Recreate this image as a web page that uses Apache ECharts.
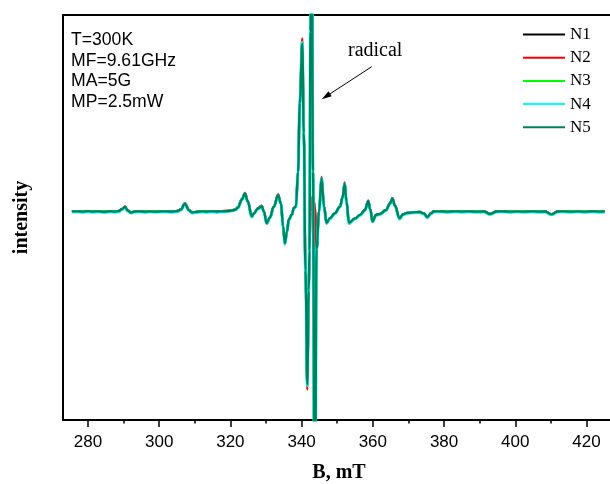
<!DOCTYPE html>
<html>
<head>
<meta charset="utf-8">
<script src="https://cdn.jsdelivr.net/npm/echarts@6/dist/echarts.min.js"></script>
<style>
html,body{margin:0;padding:0;background:#fff;}
#chart{width:610px;height:484px;}
</style>
</head>
<body>
<div id="chart"></div>
<script>
// Magnetic field (mT)
const fieldB = [
  275.5, 277.0, 278.5, 280.0, 281.5, 283.0, 284.5, 286.0, 287.5, 288.6,
  289.6, 290.4, 291.2, 292.1, 293.2, 294.5, 296.0, 297.5, 299.0, 300.5,
  302.0, 303.5, 305.0, 306.1, 307.2, 308.4, 309.2, 310.3, 311.8, 313.3,
  314.8, 316.2, 317.6, 319.0, 320.4, 321.4, 322.1, 323.2, 324.1, 324.9,
  326.0, 326.6, 327.7, 328.8, 329.4, 330.2, 331.1, 332.2, 333.4, 334.2,
  334.8, 335.3, 335.9, 336.4, 337.3, 337.8, 338.4, 339.0, 339.5, 340.2,
  340.6, 341.1, 341.6, 342.0, 342.2, 342.5, 342.8, 343.2, 343.7, 344.2,
  344.9, 345.6, 346.3, 347.0, 347.9, 349.3, 350.8, 351.5, 352.1, 352.6,
  353.3, 355.0, 356.4, 357.8, 358.7, 359.3, 359.9, 360.9, 362.0, 363.7,
  364.8, 365.5, 366.2, 367.5, 368.4, 369.6, 371.5, 373.2, 374.3, 375.3,
  376.3, 377.1, 379.0, 381.0, 383.0, 385.0, 387.0, 389.0, 391.2, 392.9,
  394.8, 396.5, 398.5, 400.5, 402.5, 404.5, 406.5, 408.3, 410.2, 411.9,
  413.5, 415.5, 417.5, 419.5, 421.5, 423.5, 425.1
];
const intN1 = [
  0, 0.4, -0.3, 0.3, -0.4, 0.3, -0.2, 0.4, -0.3, 0.5,
  2.5, 4.8, 1.0, -1.0, 0, 0.4, -0.3, 0.3, -0.4, 0.2,
  0.3, -0.2, 0.5, 2.0, 8.0, 1.5, -1.0, -0.5, 0.3, -0.3,
  0.4, -0.2, 0.3, 0.5, 1.0, 2.0, 4.0, 12.0, 18.0, 10.0,
  -5.0, -2.0, 3.0, 5.5, 0, -11.8, -6.0, 5.0, 16.5, 8.0,
  -15, -32, -20, -8, -3, 3.5, 5, 40, 110, 170,
  80, -60, -175, -80, -40, 0, 10, 15, 5, -38,
  0, 33.5, 5, -11.5, -7, -2, 5, 14, 28, 10,
  -11.5, -7, -3.5, 1.5, 10.5, 2, -10, -3.5, -2.5, 1.5,
  8, 13, 6, -7, -3, -1.5, -0.8, -0.5, -2, -5.8,
  -2, 0, 0.4, -0.3, 0.3, -0.4, 0.3, -0.2, 0, -2.5,
  0, 0.4, -0.3, 0.3, -0.4, 0.3, -0.2, 0, -2.8, 0,
  0.4, -0.3, 0.3, -0.4, 0.3, -0.2, 0.2
];
const intN2 = [
  0.2, 0.3, -0.4, 0.2, -0.3, 0.4, -0.3, 0.3, -0.2, 0.4,
  2.6, 5.0, 1.2, -1.1, 0.1, 0.3, -0.4, 0.4, -0.3, 0.3,
  0.2, -0.3, 0.4, 2.2, 8.3, 1.6, -1.1, -0.4, 0.2, -0.2,
  0.3, -0.3, 0.4, 0.6, 1.1, 2.1, 4.2, 12.4, 18.6, 10.3,
  -5.3, -2.1, 3.1, 5.8, 0.2, -12.3, -6.2, 5.2, 17.0, 8.2,
  -15.5, -33, -20.5, -8.2, -3.1, 3.6, 5.2, 41, 112, 173,
  82, -62, -178, -82, -41, 0, 10, 15, 5, -39,
  0, 34.5, 5.2, -12, -7.2, -2.1, 5.2, 14.5, 29, 10.3,
  -12, -7.2, -3.6, 1.6, 10.8, 2.1, -10.4, -3.6, -2.6, 1.6,
  8.3, 13.4, 6.2, -7.2, -3.1, -1.6, -0.7, -0.6, -2.1, -6.0,
  -2.1, 0.1, 0.3, -0.4, 0.2, -0.3, 0.4, -0.3, 0.1, -2.6,
  0.1, 0.3, -0.4, 0.2, -0.3, 0.4, -0.3, 0.1, -2.9, 0.1,
  0.3, -0.4, 0.2, -0.3, 0.4, -0.3, 0.1
];
const intN3 = [
  0.3, -0.3, 0.4, -0.2, 0.3, -0.4, 0.3, -0.2, 0.4, 0.1,
  2.4, 4.7, 0.9, -0.9, 0.1, -0.3, 0.4, -0.2, 0.3, -0.3,
  0.4, -0.4, 0.3, 1.9, 7.8, 1.4, -0.9, -0.6, 0.4, -0.2,
  0.2, -0.4, 0.4, 0.3, 0.9, 1.9, 3.9, 11.8, 17.7, 9.8,
  -4.9, -1.9, 2.9, 5.4, -0.1, -11.6, -5.9, 4.9, 16.2, 7.8,
  -14.8, -31.5, -19.7, -7.9, -2.9, 3.4, 4.9, 39, 108, 167,
  78, -59, -171, -78, -39, 180, 400, 40, -400, -37,
  0.2, 33, 4.9, -11.3, -6.9, -2.0, 4.9, 13.8, 27.6, 9.8,
  -11.3, -6.9, -3.4, 1.4, 10.3, 1.9, -9.8, -3.4, -2.4, 1.4,
  7.9, 12.8, 5.9, -6.9, -2.9, -1.4, -0.9, -0.4, -1.9, -5.7,
  -1.9, -0.1, -0.3, 0.4, -0.2, 0.3, -0.4, 0.3, -0.1, -2.4,
  -0.1, -0.3, 0.4, -0.2, 0.3, -0.4, 0.3, -0.1, -2.7, -0.1,
  -0.3, 0.4, -0.2, 0.3, -0.4, 0.3, -0.1
];
const intN4 = [
  -0.6, -0.2, -0.9, -0.3, -0.8, -0.2, -0.9, -0.4, -0.7, -0.3,
  1.9, 4.3, 0.5, -1.5, -0.6, -0.2, -0.9, -0.3, -0.8, -0.4,
  -0.3, -0.8, -0.2, 1.4, 7.4, 1.0, -1.5, -1.0, -0.4, -0.8,
  -0.3, -0.9, -0.3, -0.1, 0.5, 1.5, 3.5, 11.5, 17.5, 9.5,
  -5.4, -2.4, 2.5, 5.0, -0.5, -12.0, -6.4, 4.5, 16.0, 7.5,
  -15.3, -32.2, -20.3, -8.4, -3.4, 3.0, 4.5, 39.5, 109, 169,
  79, -60, -174, -80, -40, 180, 400, 40, -400, -38,
  -0.3, 33, 4.5, -11.8, -7.4, -2.5, 4.5, 13.5, 27.5, 9.5,
  -11.8, -7.4, -3.9, 1.0, 10, 1.5, -10.3, -3.9, -2.9, 1.0,
  7.5, 12.5, 5.5, -7.4, -3.4, -1.9, -1.3, -0.9, -2.4, -6.2,
  -2.4, -0.5, -0.2, -0.9, -0.3, -0.8, -0.3, -0.8, -0.5, -3.0,
  -0.5, -0.2, -0.9, -0.3, -0.8, -0.2, -0.8, -0.5, -3.3, -0.5,
  -0.2, -0.8, -0.3, -0.9, -0.2, -0.8, -0.4
];
const intN5 = [
  0.1, 0.2, -0.2, 0.3, -0.1, 0.2, -0.3, 0.2, -0.1, 0.3,
  2.3, 4.6, 0.8, -1.0, 0.0, 0.2, -0.2, 0.1, -0.2, 0.2,
  0.1, -0.1, 0.3, 1.8, 7.7, 1.3, -1.0, -0.5, 0.2, -0.1,
  0.2, -0.1, 0.2, 0.3, 0.9, 1.8, 3.8, 11.8, 17.8, 9.8,
  -4.9, -1.9, 2.9, 5.4, 0.0, -11.6, -5.9, 4.9, 16.3, 7.9,
  -14.9, -31.7, -19.8, -7.9, -2.9, 3.4, 4.9, 39.5, 108.5, 168,
  79, -59, -173, -79, -39, 180, 400, 40, -400, -37.5,
  0.1, 33.1, 4.9, -11.4, -6.9, -1.9, 4.9, 13.9, 27.7, 9.9,
  -11.4, -6.9, -3.4, 1.5, 10.4, 1.9, -9.9, -3.4, -2.4, 1.5,
  7.9, 12.9, 5.9, -6.9, -2.9, -1.4, -0.8, -0.5, -1.9, -5.7,
  -1.9, 0.0, 0.2, -0.2, 0.2, -0.1, 0.2, -0.2, 0.0, -2.5,
  0.0, 0.2, -0.2, 0.1, -0.2, 0.2, -0.1, 0.0, -2.8, 0.0,
  0.2, -0.2, 0.1, -0.2, 0.2, -0.1, 0.1
];
const seriesNames = ['N1', 'N2', 'N3', 'N4', 'N5'];
const seriesValues = [intN1, intN2, intN3, intN4, intN5];
const seriesColors = ['#000000', '#ff0000', '#00ff00', '#00ffff', '#00805c'];
const majorTicks = [280, 300, 320, 340, 360, 380, 400, 420];
const minorTicks = [290, 310, 330, 350, 370, 390, 410];
const noteLines = ['T=300K', 'MF=9.61GHz', 'MA=5G', 'MP=2.5mW'];
const xTitle = 'B, mT';
const yTitle = 'intensity';
const arrowLabel = 'radical';

const chart = echarts.init(document.getElementById('chart'), null, {renderer: 'canvas'});

const series = seriesNames.map((name, k) => ({
  name: name,
  type: 'line',
  xAxisIndex: 0,
  data: fieldB.map((b, i) => [b, seriesValues[k][i]]),
  showSymbol: false,
  symbol: 'none',
  smooth: 0.4,
  smoothMonotone: 'x',
  clip: true,
  color: seriesColors[k],
  lineStyle: {color: seriesColors[k], width: k === 3 ? 3 : 2.3},
  itemStyle: {color: seriesColors[k]},
  z: 2 + k
}));

const option = {
  animation: false,
  backgroundColor: '#fff',
  grid: {left: 63, right: -5, top: 15, bottom: 64, outerBoundsMode: 'none', containLabel: false,
         show: true, borderColor: '#000', borderWidth: 2, backgroundColor: 'transparent'},
  legend: {
    orient: 'vertical',
    left: 523,
    top: 26,
    padding: 0,
    itemGap: 6.2,
    itemWidth: 42,
    itemHeight: 2,
    icon: 'rect',
    data: seriesNames,
    textStyle: {fontFamily: 'Liberation Serif', fontSize: 17, color: '#000', lineHeight: 17, padding: [0, 0, 0, 0]}
  },
  xAxis: [
    {
      type: 'value', min: 273, max: 428, position: 'bottom',
      axisLine: {show: false, onZero: false},
      splitLine: {show: false},
      axisTick: {show: true, customValues: majorTicks, length: 7, lineStyle: {color: '#000', width: 1.5}},
      axisLabel: {show: true, customValues: majorTicks, margin: 14, fontFamily: 'Liberation Sans', fontSize: 17, color: '#000'},
      name: xTitle, nameLocation: 'middle', nameGap: 43,
      nameTextStyle: {fontFamily: 'Liberation Serif', fontWeight: 'bold', fontSize: 20, color: '#000'}
    },
    {
      type: 'value', min: 273, max: 428, position: 'bottom',
      axisLine: {show: false, onZero: false},
      splitLine: {show: false},
      axisTick: {show: true, customValues: minorTicks, length: 3.5, lineStyle: {color: '#000', width: 1.5}},
      axisLabel: {show: false}
    }
  ],
  yAxis: {
    type: 'value', min: -208.5, max: 196.5,
    axisLine: {show: false, onZero: false}, axisTick: {show: false}, axisLabel: {show: false}, splitLine: {show: false},
    name: yTitle, nameLocation: 'middle', nameGap: 31,
    nameTextStyle: {fontFamily: 'Liberation Serif', fontWeight: 'bold', fontSize: 20, color: '#000'}
  },
  series: series,
  graphic: [
    {
      type: 'text', left: 71, top: 30, z: 50,
      style: {text: noteLines.join('\n'), fontFamily: 'Liberation Sans', fontSize: 17.6, lineHeight: 20.5, fill: '#000'}
    },
    {
      type: 'text', left: 348, top: 41, z: 50,
      style: {text: arrowLabel, fontFamily: 'Liberation Serif', fontSize: 20, fill: '#000'}
    },
    {
      type: 'line', z: 50,
      shape: {x1: 371.7, y1: 66.7, x2: 330.1, y2: 93.8},
      style: {stroke: '#000', lineWidth: 1}
    },
    {
      type: 'polygon', z: 50,
      shape: {points: [[321.7, 99.3], [331.7, 96.3], [328.5, 91.3]]},
      style: {fill: '#000'}
    }
  ]
};
chart.setOption(option);
</script>
</body>
</html>
